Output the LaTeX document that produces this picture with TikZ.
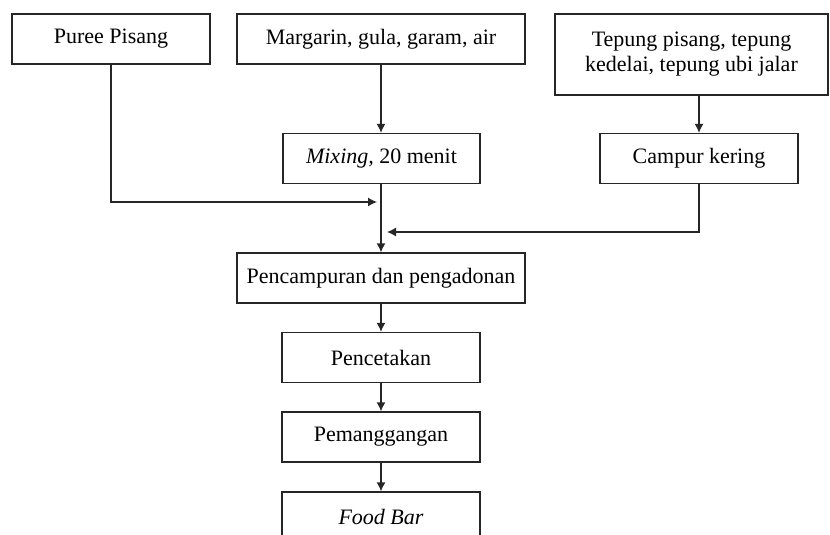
\documentclass[tikz,border=0pt]{standalone}
\usepackage{fontspec}
\setmainfont{Liberation Serif}
\usetikzlibrary{arrows.meta}

\begin{document}
\begin{tikzpicture}[
                x=0.5pt, y=-0.5pt,
                line width=0.65pt,
                box/.style={draw=black!85,align=center,text=black,inner sep=0pt,
                            minimum height=25pt,font=\fontsize{11}{12.5}\selectfont},
                flow/.style={draw=black!85,-{Latex[length=4.5pt,width=4.5pt]}}] %

\clip (0,0) rectangle (830,535);

                    % 1
                    \node[box,minimum width=99pt] (PUREE) at (111,39) {Puree Pisang};
                    \node[box,minimum width=144pt] (MARG) at (381,39) {Margarin, gula, garam, air};
                    \node[box,minimum width=136.5pt,minimum height=40.5pt] (TEPUNG) at (691.5,54.5) {Tepung pisang, tepung\\kedelai, tepung ubi jalar};

                    % 2
                    \node[box,minimum width=98.5pt] (MIX) at (381.5,158.5) {\textit{Mixing,} 20 menit};
                    \node[box,minimum width=99pt] (CAMPUR) at (699,158.5) {Campur kering};
                    \draw[flow] (MARG) -- (MIX.north -| MARG);
                    \draw[flow] (TEPUNG.south -| CAMPUR) -- (CAMPUR.north);

                    % 3
                    \coordinate (JPUREE) at (377,202);
                    \coordinate (JCAMPUR) at (387,232);
                    \draw[flow] (PUREE.south) |- (JPUREE);
                    \draw[flow] (CAMPUR.south) |- (JCAMPUR);

%%%%%%%%%%%%%%%%%%%%%%%%%%%%%%%%%%%%%%%%%%%%%%%%%%%%%%%%%%%%%%%%%%%%%%%%%%%%%%%%%%%%

                    % 4
                    \node[box,minimum width=144pt] (ADON) at (381,278) {Pencampuran dan pengadonan};
                    \draw[flow] (MIX.south -| ADON) -- (ADON.north);

                    % 5
                    \node[box,minimum width=99pt] (CETAK) at (381,357.5) {Pencetakan};
                    \draw[flow] (ADON) -- (CETAK);

                    % 6
                    \node[box,minimum width=99pt] (PANGGANG) at (381,437) {Pemanggangan};
                    \draw[flow] (CETAK) -- (PANGGANG);

                    % 7
                    \node[box,minimum width=99pt] (BAR) at (381,517) {\textit{Food Bar}};
                    \draw[flow] (PANGGANG) -- (BAR);

\end{tikzpicture}
\end{document}
